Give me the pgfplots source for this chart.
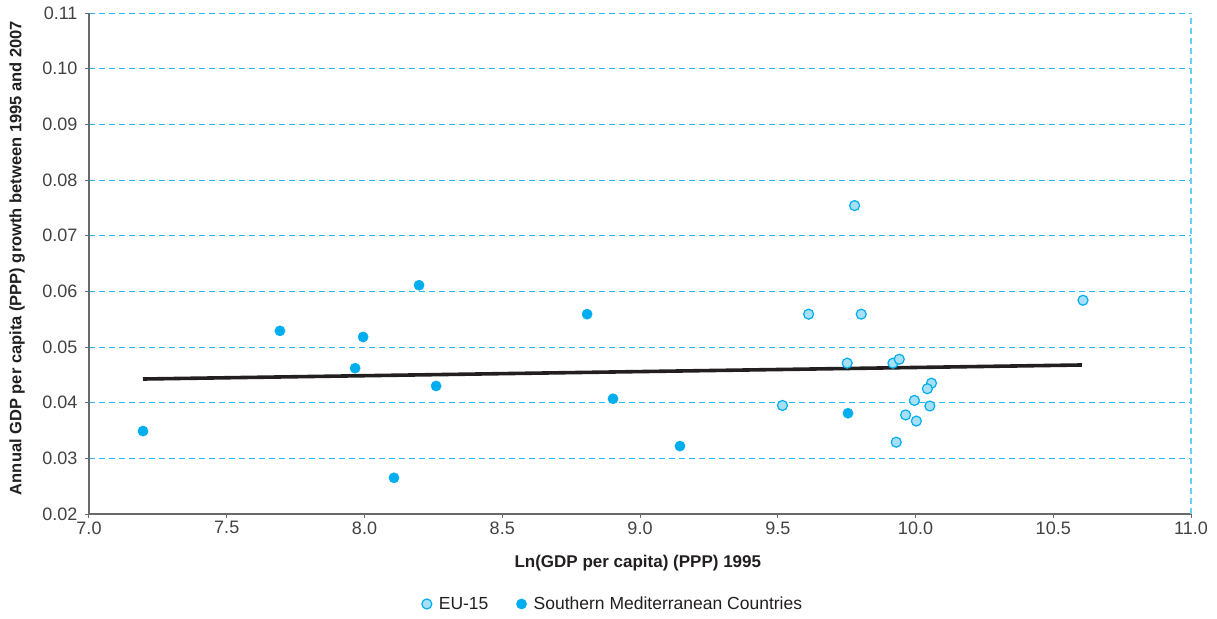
\documentclass[border=0pt]{standalone}
\usepackage{fontspec}
\setmainfont{Liberation Sans}
\usepackage{pgfplots}
\pgfplotsset{compat=1.18}
\definecolor{cyanC}{RGB}{0,174,239}
\definecolor{lightC}{RGB}{166,223,246}
\definecolor{gridC}{RGB}{40,185,240}
\definecolor{axisC}{RGB}{105,105,105}
\definecolor{txtC}{RGB}{35,31,32}
\begin{document}
\begin{tikzpicture}
\begin{axis}[
  at={(0pt,0pt)}, anchor=south west,
  scale only axis, width=1102pt, height=501pt,
  xmin=7, xmax=11, ymin=0.02, ymax=0.11,
  xtick={7,7.5,8,8.5,9,9.5,10,10.5,11},
  ytick={0.02,0.03,0.04,0.05,0.06,0.07,0.08,0.09,0.10,0.11},
  axis x line*=bottom, axis y line*=left,
  axis line style={axisC, line width=1.3pt},
  tick style={axisC, line width=1pt},
  tick align=outside, major tick length=4pt,
  ymajorgrids,
  major grid style={gridC, dash pattern=on 6pt off 4pt, line width=0.9pt},
  extra x ticks={11}, extra x tick labels={},
  extra x tick style={xmajorgrids=true, major tick length=0pt,
     major grid style={gridC!70, dash pattern=on 6pt off 4pt, line width=1.6pt}},
  /pgf/number format/assume math mode=true,
  xticklabel style={/pgf/number format/.cd, fixed, fixed zerofill, precision=1},
  yticklabel style={xshift=-4pt, /pgf/number format/.cd, fixed, fixed zerofill, precision=2},
  ticklabel style={font=\fontsize{18}{20}\selectfont, text=txtC!85},
  xlabel={\textbf{Ln(GDP per capita) (PPP) 1995}},
  ylabel={\textbf{Annual GDP per capita (PPP) growth between 1995 and 2007}},
  every axis x label/.style={at={(axis description cs:0.498,-0.098)}, anchor=center,
     font=\fontsize{17}{20}\selectfont, text=txtC},
  every axis y label/.style={at={(axis description cs:-0.0653,0.511)}, rotate=90, anchor=center,
     font=\fontsize{16.5}{20}\selectfont, text=txtC},
  legend style={at={(axis description cs:0.4755,-0.1796)}, anchor=center, draw=none,
     font=\fontsize{17.5}{20}\selectfont, text=txtC, legend columns=2,
     /tikz/every odd column/.append style={column sep=5pt},
     /tikz/every even column/.append style={column sep=26pt}},
  legend cell align=left,
  clip=false,
]
\addplot[only marks, mark=*, mark size=5pt, mark options={draw=cyanC, fill=lightC, line width=1.2pt}]
coordinates {
(9.779,0.0754) (9.612,0.0559) (9.803,0.0559) (10.608,0.0584)
(9.752,0.0471) (9.918,0.0471) (9.941,0.0478) (10.058,0.0435)
(10.043,0.0425) (9.996,0.0404) (10.052,0.0394) (9.964,0.0378)
(10.003,0.0367) (9.930,0.0329) (9.517,0.0395)
};
\addlegendentry{EU-15}
\addplot[only marks, mark=*, mark size=5.1pt, mark options={draw=cyanC, fill=cyanC, line width=0.5pt}]
coordinates {
(7.196,0.0349) (7.693,0.0529) (7.966,0.0462) (7.995,0.0518)
(8.107,0.0265) (8.198,0.0611) (8.260,0.0430) (8.808,0.0559)
(8.902,0.0407) (9.145,0.0322) (9.755,0.0381)
};
\addlegendentry{Southern Mediterranean Countries}
\addplot[txtC, line width=3.6pt, forget plot] coordinates {(7.196,0.04425) (10.604,0.04677)};
\end{axis}
\pgfresetboundingbox
\useasboundingbox (-89pt,-104pt) rectangle (1128pt,514pt);
\end{tikzpicture}
\end{document}
